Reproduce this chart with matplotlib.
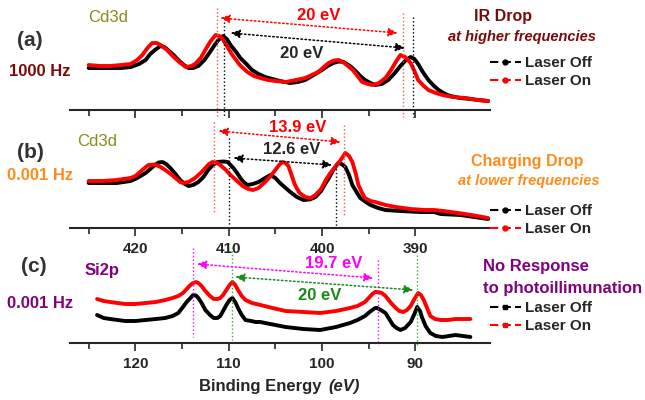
import matplotlib
matplotlib.use('Agg')
import matplotlib.pyplot as plt
from matplotlib.lines import Line2D

plt.rcParams['font.family'] = ['Liberation Sans', 'DejaVu Sans']

# ---- panel (a): Cd3d, 1000 Hz ----
a_off_be = [425.0, 423.8, 422.7, 421.5, 420.5, 419.6, 418.9, 418.4, 417.9, 417.3, 416.9, 416.5, 415.9,
            415.4, 414.8, 414.3, 413.8, 413.25, 412.6, 412.0, 411.5, 411.1, 410.6, 410.2, 409.8, 409.2,
            408.75, 408.1, 407.5, 406.8, 406.1, 405.3, 404.5, 403.4, 402.6, 401.8, 400.9, 400.0, 399.4,
            398.8, 398.2, 397.7, 397.0, 396.4, 395.9, 395.4, 394.8, 394.3, 393.6, 392.9, 392.2, 391.6,
            391.0, 390.5, 390.1, 389.7, 389.2, 388.6, 388.0, 387.5, 386.8, 386.25, 385.2, 384.1, 383.2, 382.2]
a_off_i = [42, 42, 42, 42, 43, 46, 50, 56, 60, 64, 63, 60, 55,
           50, 45, 42, 42, 44, 50, 58, 65, 70, 74, 71, 65, 58,
           52, 46, 40, 36, 33, 31, 29, 27, 28, 30, 35, 40, 44,
           47, 48.5, 48, 44, 39, 34, 30, 27, 25, 26, 30, 37, 44,
           50, 53, 51, 46, 38, 30, 24, 20, 16, 14, 12, 11, 10, 9]
a_on_be = [425.0, 423.8, 422.7, 421.5, 420.5, 419.8, 419.25, 418.7, 418.2, 417.7, 417.3, 416.6, 416.0,
           415.3, 414.6, 414.0, 413.6, 413.0, 412.5, 412.0, 411.4, 411.0, 410.7, 410.2, 409.6, 408.8,
           408.0, 407.3, 406.6, 405.8, 405.0, 403.9, 402.8, 401.8, 401.1, 400.4, 399.8, 399.3, 398.7,
           398.2, 397.6, 396.7, 396.2, 395.7, 395.1, 394.6, 393.9, 393.2, 392.6, 392.1, 391.6, 391.1,
           390.5, 390.1, 389.7, 389.1, 388.6, 387.8, 387.1, 386.0, 384.6, 383.4, 382.2]
a_on_i = [45, 44, 44, 45, 46, 50, 55, 62, 67, 67, 65, 60, 54,
          48, 43, 44, 46, 52, 60, 68, 75, 74, 72, 64, 55, 45,
          38, 34, 32, 30, 29, 28, 30, 32, 35, 38, 43, 47, 49.5,
          50, 47, 40, 34, 28, 26, 25, 27, 32, 40, 48, 55, 53,
          47, 39, 30, 24, 20, 17, 15, 13, 12, 10, 9]

# ---- panel (b): Cd3d, 0.001 Hz ----
b_off_be = [425.0, 423.5, 422.0, 420.5, 419.8, 418.9, 418.4, 417.9, 417.5, 417.1, 416.7, 416.25, 415.7,
            415.2, 414.7, 414.3, 413.8, 413.25, 412.7, 412.2, 411.7, 411.2, 410.6, 410.1, 409.8, 409.5,
            409.1, 408.75, 408.4, 408.0, 407.4, 406.8, 406.1, 405.5, 405.0, 404.5, 403.9, 403.4, 402.7,
            402.0, 401.3, 400.7, 400.1, 399.6, 399.2, 398.8, 398.25, 397.9, 397.5, 397.1, 396.75, 396.3,
            395.9, 395.3, 394.8, 394.0, 393.2, 391.6, 389.5, 388.0, 387.3, 385.2, 382.2]
b_off_i = [45, 45, 45, 47, 50, 55, 59, 63, 65.5, 66, 64, 60, 54,
           48, 44, 42, 43, 46, 51, 58, 63, 66, 66.5, 66, 63, 60,
           55, 50, 46, 43, 44, 46, 50, 53, 50, 45, 40, 36, 31,
           28, 28.5, 31, 37, 45, 51, 58, 65, 64, 61, 53, 43, 36,
           30, 26, 23, 20, 18, 17, 16, 16, 14, 13, 9]
b_on_be = [425.0, 423.5, 422.0, 420.5, 420.0, 419.5, 419.0, 418.6, 417.9, 417.3, 416.8, 416.2, 415.7,
           415.2, 414.9, 414.3, 413.6, 413.0, 412.5, 412.1, 411.75, 411.3, 410.9, 410.3, 409.8, 409.1,
           408.5, 407.9, 407.4, 406.8, 406.1, 405.5, 405.0, 404.6, 404.25, 403.9, 403.6, 403.3, 402.9,
           402.4, 401.8, 401.2, 400.7, 400.1, 399.6, 399.1, 398.6, 398.0, 397.5, 397.1, 396.75, 396.4,
           396.1, 395.7, 395.4, 394.8, 394.3, 393.2, 392.1, 390.5, 389.0, 388.0, 387.0, 385.4, 384.0, 382.2]
b_on_i = [47, 47, 48, 50, 52, 56, 60, 63, 63.5, 61, 58, 54, 50,
          46, 45, 46, 50, 55, 60, 64, 66, 65.5, 63, 58, 53, 47,
          42, 39, 38, 40, 46, 52, 58, 63, 66, 65, 62, 54, 43,
          35, 31, 30, 33, 39, 48, 55, 61, 68, 75, 72, 66, 55,
          43, 35, 30, 27, 26, 23, 21, 19, 18, 18, 17, 15, 13, 10]

# ---- panel (c): Si2p, 0.001 Hz ----
c_off_be = [124.1, 123.4, 122.7, 121.9, 121.1, 120.0, 118.9, 117.8, 116.8, 116.0, 115.4, 114.9, 114.5,
            114.1, 113.8, 113.5, 113.25, 112.9, 112.5, 112.0, 111.6, 111.2, 110.9, 110.6, 110.25, 109.9,
            109.6, 109.3, 109.0, 108.6, 108.2, 107.6, 107.1, 106.6, 106.1, 105.0, 103.9, 102.0, 100.2,
            98.5, 97.0, 96.2, 95.4, 94.9, 94.6, 94.3, 94.1, 93.7, 93.2, 92.8, 92.4, 92.0, 91.6,
            91.1, 90.5, 90.1, 89.8, 89.5, 89.3, 88.9, 88.4, 87.8, 87.1, 86.4, 85.7, 84.9, 84.1]
c_off_i = [28, 25, 24, 23, 22, 22, 23, 24, 25, 27, 30, 36, 41,
           45, 48, 47.5, 45, 40, 33, 28, 25, 25, 27, 32, 38, 43,
           45, 41, 35, 28, 23, 22, 21, 21, 20, 18, 16, 14, 13,
           16, 20, 23, 27, 31, 33, 35, 35, 33, 30, 24, 18, 15, 13,
           15, 21, 29, 36, 32, 26, 17, 10, 7, 6, 7, 8, 7, 6]
c_on_be = [124.1, 123.4, 122.7, 121.9, 121.1, 120.0, 118.9, 117.8, 116.8, 116.0, 115.4, 114.9, 114.5,
           114.1, 113.8, 113.5, 113.25, 112.9, 112.5, 112.0, 111.6, 111.2, 110.9, 110.6, 110.25, 109.9,
           109.6, 109.3, 109.0, 108.6, 108.2, 107.5, 106.6, 105.3, 103.9, 102.0, 100.2, 98.5, 97.0,
           96.2, 95.4, 94.9, 94.6, 94.3, 94.0, 93.6, 93.2, 92.6, 92.1, 91.7, 91.3, 90.9, 90.5,
           90.1, 89.7, 89.4, 89.1, 88.7, 88.4, 87.9, 87.3, 86.5, 85.7, 84.9, 84.1]
c_on_i = [44, 42, 41, 40, 39, 39, 40, 41, 43, 45, 47, 50, 54,
          58, 60, 61, 60, 57, 52, 47, 44, 44, 45, 48, 53, 58,
          61, 58, 53, 47, 43, 40, 38, 35, 32, 31, 30, 32, 35,
          37, 41, 46, 49, 51, 51, 50, 47, 40, 35, 32, 31, 33, 37,
          44, 50, 48, 43, 34, 27, 24, 23, 23, 24, 24, 24]

ticks_cd = [420, 410, 400, 390]
ticks_si = [120, 110, 100, 90]

dark = '#262626'
red = '#ff0000'

fig = plt.figure(figsize=(6.45, 4.0), dpi=100)
ax_a = fig.add_axes([70/645, 290/400, 420/645, 105/400])
ax_b = fig.add_axes([70/645, 172/400, 420/645, 110/400])
ax_c = fig.add_axes([70/645, 57/400, 420/645, 98/400])

for ax in (ax_a, ax_b, ax_c):
    for s in ('top', 'left', 'right'):
        ax.spines[s].set_visible(False)
    ax.spines['bottom'].set_linewidth(1.5)
    ax.spines['bottom'].set_color(dark)
    ax.set_yticks([])
    ax.tick_params(axis='x', which='major', length=6, width=1.2, color=dark,
                   labelsize=11, labelcolor=dark, pad=4)
    ax.tick_params(axis='x', which='minor', length=4, width=1.2, color=dark)
    ax.patch.set_alpha(0)

ax_a.set_xlim(427, 382)
ax_b.set_xlim(427, 382)
ax_c.set_xlim(127, 82)
ax_a.set_ylim(0, 105)
ax_b.set_ylim(0, 110)
ax_c.set_ylim(0, 98)
for ax, t in ((ax_a, ticks_cd), (ax_b, ticks_cd), (ax_c, ticks_si)):
    ax.set_xticks(t)
    ax.set_xticks([v + 5 for v in t], minor=True)
ax_a.set_xticklabels([])
for ax in (ax_b, ax_c):
    for lab in ax.get_xticklabels():
        lab.set_fontweight('bold')

kw = dict(lw=2.8, solid_joinstyle='round', solid_capstyle='round')
ax_a.plot(a_off_be, a_off_i, color='black', **kw)
ax_a.plot(a_on_be, a_on_i, color=red, **kw)
ax_b.plot(b_off_be, b_off_i, color='black', **kw)
ax_b.plot(b_on_be, b_on_i, color=red, **kw)
ax_c.plot(c_off_be, c_off_i, color='black', **kw)
ax_c.plot(c_on_be, c_on_i, color=red, **kw)


def vline(ax, x, y0, y1, col):
    ax.plot([x, x], [y0, y1], color=col, ls=':', lw=1, clip_on=False)


def arrow(ax, x0, y0, x1, y1, col):
    ax.annotate('', xy=(x1, y1), xytext=(x0, y0), annotation_clip=False,
                arrowprops=dict(arrowstyle='<|-|>,head_length=0.55,head_width=0.25',
                                color=col, ls=':', lw=1.1, shrinkA=0, shrinkB=0))


# (a) guides
vline(ax_a, 411.2, 102, -7, '#ff5050')
vline(ax_a, 410.5, 88, -7, 'black')
vline(ax_a, 391.3, 97, -7, '#ff5050')
vline(ax_a, 390.2, 93, -7, 'black')
arrow(ax_a, 410.9, 92, 391.9, 77, red)
arrow(ax_a, 409.8, 77, 391.1, 62, 'black')
ax_a.text(400.4, 95, '20 eV', color=red, fontsize=12, fontweight='bold', ha='center', va='center')
ax_a.text(402.2, 57, '20 eV', color=dark, fontsize=12, fontweight='bold', ha='center', va='center')

# (b) guides
vline(ax_b, 411.6, 106, 16, '#ff5050')
vline(ax_b, 410.0, 90, 2, 'black')
vline(ax_b, 397.6, 103, 11, '#ff5050')
vline(ax_b, 398.5, 63, 0, 'black')
arrow(ax_b, 411.1, 97, 398.0, 86, red)
arrow(ax_b, 409.5, 70, 398.9, 63, 'black')
ax_b.text(402.6, 100, '13.9 eV', color=red, fontsize=12, fontweight='bold', ha='center', va='center')
ax_b.text(403.2, 78, '12.6 eV', color=dark, fontsize=12, fontweight='bold', ha='center', va='center')

# (c) guides
mag = '#ff00ff'
grn = '#1a8a1a'
vline(ax_c, 113.8, 95, 6, mag)
vline(ax_c, 109.6, 96, 3, '#33aa33')
vline(ax_c, 94.0, 83, -2, mag)
vline(ax_c, 89.8, 88, -2, '#33aa33')
arrow(ax_c, 113.4, 79, 94.5, 65, mag)
arrow(ax_c, 109.3, 66, 90.2, 53, grn)
ax_c.text(98.8, 79, '19.7 eV', color=mag, fontsize=12, fontweight='bold', ha='center', va='center')
ax_c.text(100.2, 47, '20 eV', color=grn, fontsize=12, fontweight='bold', ha='center', va='center')


def ftext(x, y, s, **kw):
    kw.setdefault('ha', 'center')
    fig.text(x/645, 1 - y/400, s, va='center', **kw)


dred = '#7a0a0a'
orange = '#ff8c1a'
purple = '#800080'
olive = '#8a8a1a'

ftext(30, 41, '(a)', fontsize=15, fontweight='bold', color='#333333')
ftext(40, 71, '1000 Hz', fontsize=12, fontweight='bold', color=dred)
ftext(108, 18, 'Cd3d', fontsize=12, color=olive)
ftext(503, 16, 'IR Drop', fontsize=11.5, fontweight='bold', color=dred)
ftext(522, 37, 'at higher frequencies', fontsize=10.5, fontweight='bold', style='italic', color=dred)

ftext(30, 152, '(b)', fontsize=15, fontweight='bold', color='#333333')
ftext(40, 175, '0.001 Hz', fontsize=12, fontweight='bold', color=orange)
ftext(97, 142, 'Cd3d', fontsize=12, color=olive)
ftext(527, 161, 'Charging Drop', fontsize=11.5, fontweight='bold', color=orange)
ftext(529, 181, 'at lower frequencies', fontsize=10.5, fontweight='bold', style='italic', color=orange)

ftext(34, 267, '(c)', fontsize=15, fontweight='bold', color='#333333')
ftext(40, 304, '0.001 Hz', fontsize=12, fontweight='bold', color=purple)
ftext(102, 271, 'Si2p', fontsize=12, fontweight='bold', color=purple)
ftext(483, 266, 'No Response', fontsize=12, fontweight='bold', color=purple, ha='left')
ftext(483, 288, 'to photoillimunation', fontsize=12, fontweight='bold', color=purple, ha='left')

ftext(326, 386, 'Binding Energy ', fontsize=12, fontweight='bold', color=dark, ha='right')
ftext(328, 386, '(eV)', fontsize=12, fontweight='bold', style='italic', color=dark, ha='left')


def legend(ax, ycen, mk):
    h = [Line2D([], [], color='black', lw=1.5, ls=(0, (4, 2)), marker=mk, markersize=3.5),
         Line2D([], [], color=red, lw=1.5, ls=(0, (4, 2)), marker=mk, markersize=3.5)]
    ax.legend(h, ['Laser Off', 'Laser On'], loc='center left',
              bbox_to_anchor=(490/645, 1 - ycen/400), bbox_transform=fig.transFigure,
              frameon=False, handlelength=2.0, handletextpad=0.3, labelspacing=0.25,
              borderpad=0, borderaxespad=0, prop={'weight': 'bold', 'size': 11}, labelcolor=dark)


legend(ax_a, 72, 'o')
legend(ax_b, 220, 'o')
legend(ax_c, 317, 's')

fig.savefig('out.png', dpi=100)
